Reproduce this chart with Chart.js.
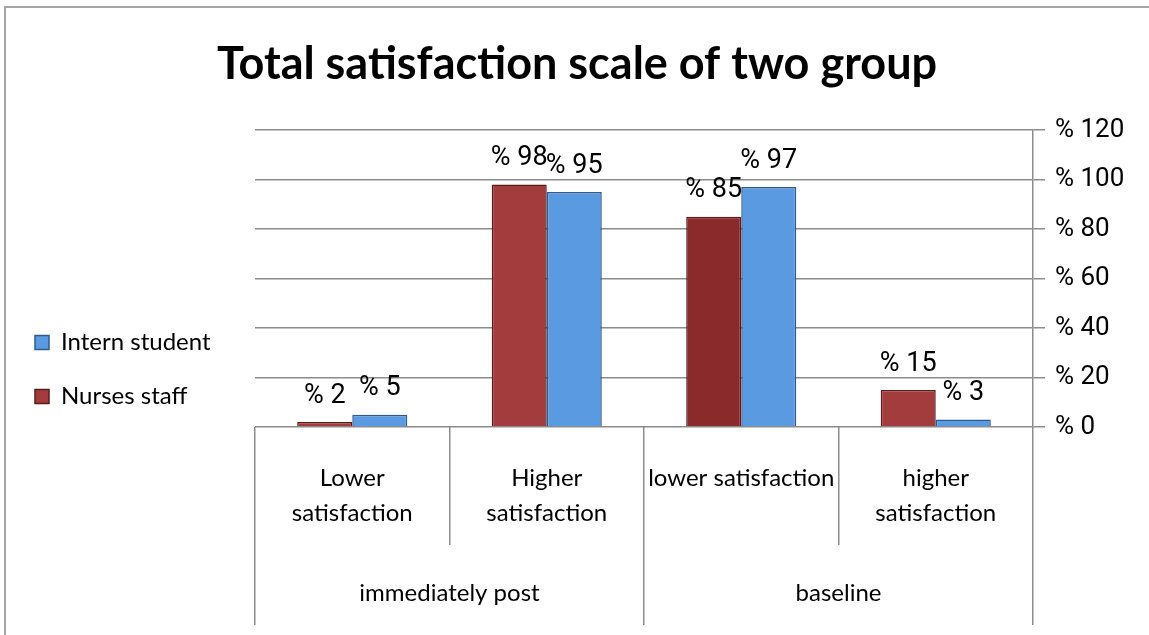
<!DOCTYPE html>
<html>
<head>
<meta charset="utf-8">
<script src="https://cdn.jsdelivr.net/npm/chart.js@4"></script>
<style>
  html, body { margin: 0; padding: 0; background: #fff; }
  #wrap { position: relative; width: 1149px; height: 635px; }
  #frame { position: absolute; left: 4px; top: 6px; right: 0; bottom: 0;
           border-top: 2px solid #a6a6a6; border-left: 2px solid #a6a6a6; }
  canvas { position: absolute; left: 0; top: 0; }
</style>
</head>
<body>
<div id="wrap">
  <div id="frame"></div>
  <canvas id="chart" width="1149" height="635"></canvas>
</div>
<script>
const subLabels = [['Lower', 'satisfaction'], ['Higher', 'satisfaction'], 'lower satisfaction', ['higher', 'satisfaction']];
const groupLabels = ['immediately post', 'baseline'];
const nursesStaff = [2, 98, 85, 15];
const internStudent = [5, 95, 97, 3];
const yTicks = [0, 20, 40, 60, 80, 100, 120];

const numFont = "Roboto, 'Liberation Sans', sans-serif";
const calib = "Lato, 'Noto Sans', sans-serif";
const gridCol = '#8c8c8c';

// "% n" above every bar
const valueLabels = {
  id: 'valueLabels',
  afterDatasetsDraw(chart) {
    const c = chart.ctx;
    c.save();
    c.font = '27px ' + numFont;
    c.fillStyle = '#000';
    c.textAlign = 'center';
    c.textBaseline = 'middle';
    chart.data.datasets.forEach((ds, i) => {
      chart.getDatasetMeta(i).data.forEach((bar, j) => {
        c.fillText('% ' + ds.data[j], bar.x, bar.y - 26);
      });
    });
    c.restore();
  }
};

new Chart(document.getElementById('chart').getContext('2d'), {
  type: 'bar',
  data: {
    labels: subLabels,
    datasets: [
      {
        label: 'Nurses staff', data: nursesStaff,
        backgroundColor: c => c.dataIndex === 2 ? '#8a2a2a' : '#a33c3c',
        borderColor: '#5a1a1a', borderWidth: 1.5,
        categoryPercentage: 0.566, barPercentage: 1.0
      },
      {
        label: 'Intern student', data: internStudent,
        backgroundColor: '#5a9ae0', borderColor: '#2d5b90', borderWidth: 1.5,
        categoryPercentage: 0.566, barPercentage: 1.0
      }
    ]
  },
  options: {
    responsive: false,
    animation: false,
    layout: { padding: { top: 0, bottom: 10, left: 5, right: 0 } },
    plugins: {
      title: {
        display: true, text: 'Total satisfaction scale of two group',
        color: '#000', font: { family: calib, size: 45, weight: 'bold' },
        padding: { top: 37, bottom: 39 }
      },
      legend: {
        position: 'left', reverse: true, maxWidth: 300,
        title: { display: true, text: '', font: { size: 10 }, padding: { top: 102, bottom: 0 } },
        labels: { color: '#000', font: { family: calib, size: 24 }, boxWidth: 14, boxHeight: 14, padding: 30 }
      },
      tooltip: { enabled: false }
    },
    scales: {
      x: {
        type: 'category', offset: true,
        grid: { offset: true, drawOnChartArea: false, tickLength: 118, color: gridCol, lineWidth: 1.5 },
        border: { display: false },
        ticks: { padding: -84, color: '#000', font: { family: calib, size: 24, lineHeight: 1.45 }, maxRotation: 0, autoSkip: false },
        afterFit: s => { s.height = 118; }
      },
      x2: {
        type: 'category', labels: groupLabels, offset: true, position: 'bottom',
        grid: { offset: true, drawOnChartArea: false, tickLength: 80, color: gridCol, lineWidth: 1.5 },
        border: { display: false },
        ticks: { padding: -46, color: '#000', font: { family: calib, size: 24 }, maxRotation: 0, autoSkip: false },
        afterFit: s => { s.height = 80; }
      },
      y: {
        position: 'right', min: 0, max: 120,
        afterBuildTicks: s => { s.ticks = yTicks.map(v => ({ value: v })); },
        grid: { color: gridCol, lineWidth: 1.5, tickLength: 12 },
        border: { color: gridCol, width: 1.5 },
        ticks: { padding: 10, color: '#000', font: { family: numFont, size: 26 }, callback: v => '% ' + v },
        afterFit: s => { s.width = 116; }
      },
      // empty spacer so the plot starts where the original one does
      pad: {
        type: 'linear', position: 'left', display: true,
        grid: { display: false }, border: { display: false }, ticks: { display: false },
        afterFit: s => { s.width = Math.max(0, 255 - 5 - (s.chart.legend ? s.chart.legend.width : 0)); }
      }
    }
  },
  plugins: [valueLabels]
});
</script>
</body>
</html>
